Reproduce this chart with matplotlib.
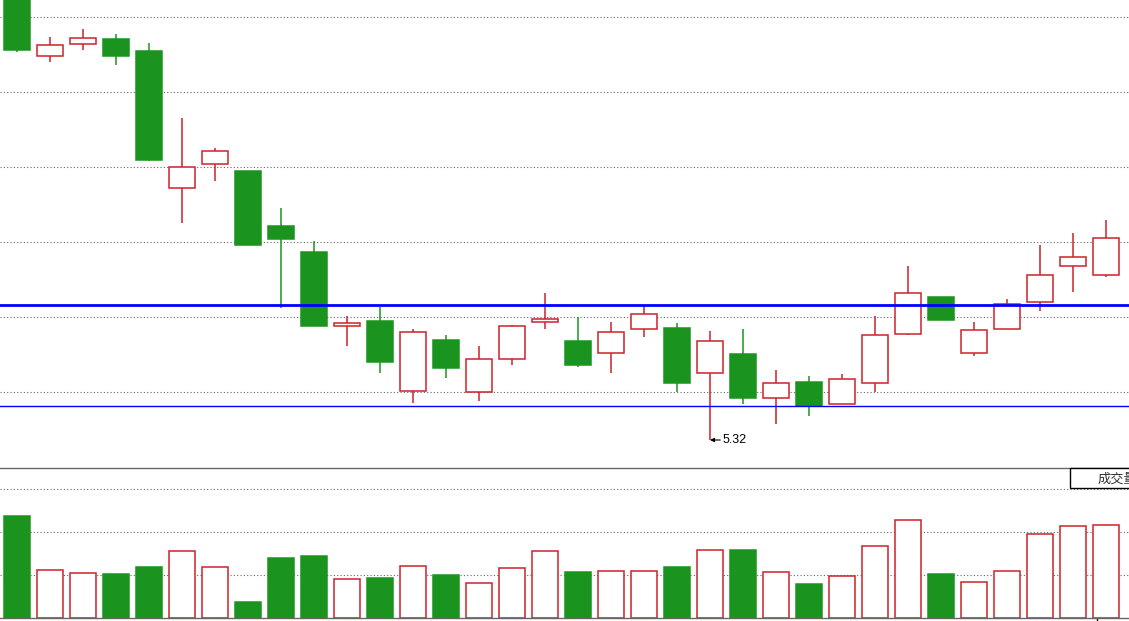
import numpy as np
from matplotlib import pyplot as plt
from matplotlib import patches as pat

# 日K线数据
opens = [8.32, 7.88, 7.96, 7.99, 7.91, 7.00, 7.16, 7.11, 6.75, 6.57,
         6.08, 6.11, 5.65, 5.99, 5.64, 5.86, 6.11, 5.98, 5.90, 6.06,
         6.07, 5.77, 5.89, 5.60, 5.71, 5.56, 5.70, 6.03, 6.27, 5.90,
         6.06, 6.24, 6.48, 6.42]
highs = [8.35, 8.01, 8.06, 8.03, 7.97, 7.47, 7.27, 7.11, 6.87, 6.65,
         6.15, 6.21, 6.06, 6.02, 5.95, 6.09, 6.30, 6.14, 6.11, 6.22,
         6.10, 6.05, 6.06, 5.79, 5.75, 5.76, 6.15, 6.48, 6.27, 6.11,
         6.26, 6.62, 6.70, 6.79]
lows = [7.91, 7.84, 7.92, 7.82, 7.18, 6.77, 7.05, 6.62, 6.20, 6.08,
        5.95, 5.77, 5.57, 5.73, 5.58, 5.82, 6.06, 5.81, 5.77, 6.01,
        5.64, 5.32, 5.56, 5.43, 5.48, 5.56, 5.64, 6.02, 6.12, 5.88,
        6.06, 6.18, 6.31, 6.41]
closes = [7.92, 7.95, 8.00, 7.88, 7.19, 7.14, 7.25, 6.62, 6.66, 6.08,
          6.10, 5.84, 6.04, 5.80, 5.86, 6.08, 6.13, 5.82, 6.04, 6.16,
          5.70, 5.98, 5.60, 5.70, 5.55, 5.73, 6.02, 6.30, 6.12, 6.05,
          6.23, 6.42, 6.54, 6.67]
volumes = [118600, 55500, 52000, 51200, 59300, 77600, 59000, 18600, 69800, 72100,
           45000, 46500, 60100, 50000, 40300, 57800, 77600, 53500, 54300, 54300,
           59300, 78700, 79100, 53100, 39500, 48500, 83400, 113600, 51200, 41500,
           54300, 97300, 106600, 107800]

price_grid = [5.64, 6.14, 6.64, 7.14, 7.64, 8.14]
vol_grid = [50000, 100000, 150000]
support_lines = [6.22, 5.55]
low_label = '5.32'
vol_title = '成交量'

RED = '#cc2229'
GREEN = '#1a941e'
BLUE = '#0000ff'
GRID = '#666666'

fig = plt.figure(figsize=(11.29, 6.21), dpi=100)


def main():
    n = len(opens)
    x = np.arange(n)
    o = np.array(opens)
    c = np.array(closes)
    up = c >= o

    # 上半部分：K线
    ax = fig.add_axes([0, 153 / 621, 1, 468 / 621])
    ax.set_xlim(-17 / 33, 1112 / 33)
    ax.set_ylim(5.32 - 28 / 150, 5.32 + 440 / 150)

    for y in price_grid:
        ax.axhline(y, color=GRID, lw=0.8, ls=(0, (1, 2)), zorder=0)

    colors = [RED if u else GREEN for u in up]
    ax.vlines(x, lows, highs, colors=colors, lw=1.1, zorder=1)
    bottoms = np.minimum(o, c)
    heights = np.maximum(np.abs(c - o), 0.005)
    faces = ['white' if u else GREEN for u in up]
    ax.bar(x, heights, bottom=bottoms, width=0.8, color=faces,
           edgecolor=colors, linewidth=1.1, zorder=2)

    ax.axhline(support_lines[0], color=BLUE, lw=2.0, zorder=3)
    ax.axhline(support_lines[1], color=BLUE, lw=1.0, zorder=3)

    # 最低价标注
    i_low = int(np.argmin(lows))
    ax.annotate(low_label, xy=(i_low, lows[i_low]),
                xytext=(i_low + 13 / 33, lows[i_low]),
                fontsize=9, family='Liberation Sans', color='black',
                ha='left', va='center',
                arrowprops=dict(arrowstyle='-|>', color='black', lw=0.8,
                                mutation_scale=6, shrinkA=0, shrinkB=0))

    ax.set_xticks([])
    ax.set_yticks([])
    for s in ax.spines.values():
        s.set_visible(False)

    # 下半部分：成交量
    axv = fig.add_axes([0, 3 / 621, 1, 150 / 621])
    axv.set_xlim(-17 / 33, 1112 / 33)
    axv.set_ylim(0, 150 / 43 * 50000)

    for y in vol_grid:
        axv.axhline(y, color=GRID, lw=0.8, ls=(0, (1, 2)), zorder=0)

    axv.bar(x, volumes, width=0.8, color=faces, edgecolor=colors,
            linewidth=1.1, zorder=2)

    for s in ['left', 'right']:
        axv.spines[s].set_visible(False)
    for s in ['top', 'bottom']:
        axv.spines[s].set_color(GRID)
        axv.spines[s].set_linewidth(1.0)

    axv.set_yticks([])
    axv.set_xticks([32.73])
    axv.set_xticklabels([''])
    axv.tick_params(axis='x', length=3, width=1, color='black', direction='out')

    # 右上角指标名称框
    axv.add_patch(pat.Rectangle((1070 / 1129, 1 - 19.5 / 150), 0.1, 19.5 / 150,
                                transform=axv.transAxes, facecolor='white',
                                edgecolor='black', lw=1.0, clip_on=False, zorder=4))
    axv.text(1098 / 1129, 1 - 11 / 150, vol_title, transform=axv.transAxes,
             fontsize=9.5, family=['Noto Sans CJK SC', 'DejaVu Sans'],
             color='#333333', ha='left', va='center', zorder=5)

    fig.savefig('out.png', dpi=100)


if __name__ == '__main__':
    main()
